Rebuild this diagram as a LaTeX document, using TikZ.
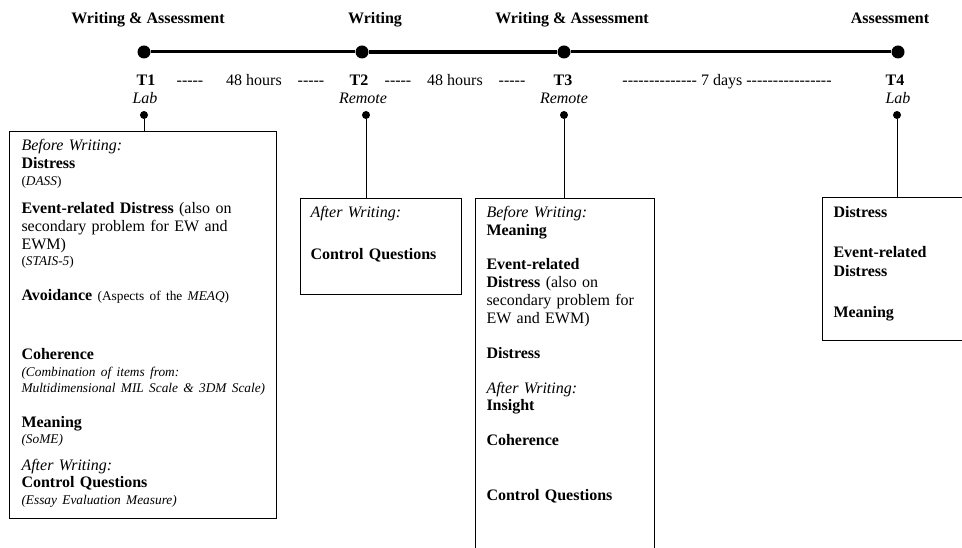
\documentclass[tikz,border=0pt]{standalone}
\usepackage{fontspec}
\setmainfont{Liberation Serif}
\newcommand{\hyphs}[1]{\foreach \k in {1,...,#1}{-\kern0pt}}
\newcommand{\sm}{\fontsize{10}{12}\selectfont}

\tikzset{every picture/.style={line width=0.75pt}}
\tikzset{
  bigdot/.style={circle,fill,inner sep=0pt,minimum size=9.75pt},
  smalldot/.style={circle,fill,inner sep=0pt,minimum size=6pt},
  box/.style={draw,anchor=north west,inner sep=0pt},
  boxtext/.style={anchor=base west,inner sep=0pt,text width=250pt,align=left,font=\fontsize{12}{13.5}\selectfont},
  toplabel/.style={anchor=base,inner sep=0pt,font=\fontsize{12}{13.5}\selectfont\bfseries},
  rowlabel/.style={anchor=base,inner sep=0pt,font=\fontsize{12}{13.5}\selectfont},
}

\begin{document}
\begin{tikzpicture}[x=0.75pt,y=0.75pt,yscale=-1,xscale=1]
\useasboundingbox (0,0) rectangle (962,548);
\clip (0,0) rectangle (962,548);
%Timeline points
\node (tA) [bigdot] at (144,52) {};
\node (tB) [bigdot] at (362,52) {};
\node (tC) [bigdot] at (564,52) {};
\node (tD) [bigdot] at (898,52) {};
\draw [line width=2.25pt] (tA) -- (tB);
\draw [line width=2.6pt] (tB) -- (tC);
\draw [line width=2.25pt] (tC) -- (tD);
% Top labels
\node (topA) [toplabel] at (148,24) {Writing \& Assessment};
\node (topB) [toplabel] at (375,24) {Writing};
\node (topC) [toplabel] at (572,24) {Writing \& Assessment};
\node (topD) [toplabel] at (890,24) {Assessment};
% Time row
\node (lblA) [rowlabel,font=\fontsize{12}{13.5}\selectfont\bfseries] at (146,86) {T1};
\node (gapA1) [rowlabel] at (190,86) {\hyphs{5}};
\node (hrsA) [rowlabel] at (254,86) {48 hours};
\node (gapA2) [rowlabel] at (311,86) {\hyphs{5}};
\node (lblB) [rowlabel,font=\fontsize{12}{13.5}\selectfont\bfseries] at (359,86) {T2};
\node (gapB1) [rowlabel] at (398,86) {\hyphs{5}};
\node (hrsB) [rowlabel] at (455,86) {48 hours};
\node (gapB2) [rowlabel] at (512,86) {\hyphs{5}};
\node (lblC) [rowlabel,font=\fontsize{12}{13.5}\selectfont\bfseries] at (563,86) {T3};
\node (daysC) [rowlabel] at (727,86) {\hyphs{14} 7 days \hyphs{16}};
\node (lblD) [rowlabel,font=\fontsize{12}{13.5}\selectfont\bfseries] at (895,86) {T4};
% Places
\node (plA) [rowlabel,font=\fontsize{12}{13.5}\selectfont\itshape] at (145,104) {Lab};
\node (plB) [rowlabel,font=\fontsize{12}{13.5}\selectfont\itshape] at (363,104) {Remote};
\node (plC) [rowlabel,font=\fontsize{12}{13.5}\selectfont\itshape] at (564,104) {Remote};
\node (plD) [rowlabel,font=\fontsize{12}{13.5}\selectfont\itshape] at (898,104) {Lab};
% Small dots
\node (dA) [smalldot] at (144,115) {};
\node (dB) [smalldot] at (366,115) {};
\node (dC) [smalldot] at (564,115) {};
\node (dD) [smalldot] at (897,115) {};
% Boxes
\node (boxA) [box,minimum width=267*0.75pt,minimum height=387*0.75pt] at (9,131) {};
\node (boxB) [box,minimum width=161*0.75pt,minimum height=96*0.75pt] at (300,198) {};
\node (boxC) [box,minimum width=179*0.75pt,minimum height=380*0.75pt] at (475,198) {};
\node (boxD) [box,minimum width=200*0.75pt,minimum height=143*0.75pt] at (822,197) {};
\draw (dA) -- (dA |- boxA.north);
\draw (dB) -- (dB |- boxB.north);
\draw (dC) -- (dC |- boxC.north);
\draw (dD) -- (dD |- boxD.north);
% Text Node
\node (txtA) [boxtext] at (21,151) {\textit{Before Writing:}\\
\textbf{Distress}\\[-0.75pt]
{\sm(\textit{DASS})}\\[7.5pt]
\textbf{Event-related Distress} (also on\\
secondary problem for EW and\\
EWM)\\[-1.5pt]
{\sm(\textit{STAIS-5})}\\[12.75pt]
\textbf{Avoidance} {\sm(Aspects of the \textit{MEAQ})}\\[30.75pt]
\textbf{Coherence}\\[-0.75pt]
{\sm\textit{(Combination of items from:}}\\[-1.5pt]
{\sm\textit{Multidimensional MIL Scale \& 3DM Scale)}}\\[12.75pt]
\textbf{Meaning}\\[-1.5pt]
{\sm\textit{(SoME)}}\\[6.75pt]
\textit{After Writing:}\\[-0.75pt]
\textbf{Control Questions}\\[-0.75pt]
{\sm\textit{(Essay Evaluation Measure)}}};
% Text Node
\node (txtB) [boxtext] at (310,218) {\textit{After Writing:}\\[18pt]
\textbf{Control Questions}};
% Text Node
\node (txtC) [boxtext] at (486,218) {\textit{Before Writing:}\\
\textbf{Meaning}\\[12pt]
\textbf{Event-related}\\
\textbf{Distress} (also on\\
secondary problem for\\
EW and EWM)\\[12.75pt]
\textbf{Distress}\\[12.75pt]
\textit{After Writing:}\\[-0.75pt]
\textbf{Insight}\\[12.75pt]
\textbf{Coherence}\\[27.75pt]
\textbf{Control Questions}};
% Text Node
\node (txtD) [boxtext] at (833,218) {\textbf{Distress}\\[16.5pt]
\textbf{Event-related}\\[0.75pt]
\textbf{Distress}\\[17.25pt]
\textbf{Meaning}};
\end{tikzpicture}
\end{document}
